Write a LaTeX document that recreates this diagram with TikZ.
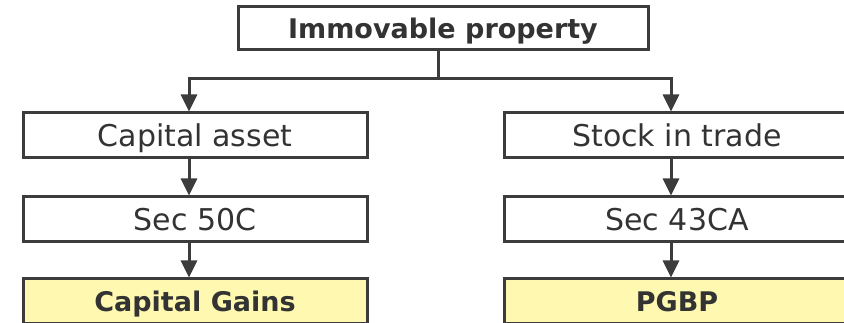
\documentclass[tikz,border=0pt]{standalone}
\usepackage{fontspec}
\setmainfont{DejaVu Sans}
\usepackage{xcolor}
\usetikzlibrary{arrows.meta}
\definecolor{boxline}{HTML}{3C3C3C}
\definecolor{txtgray}{HTML}{333333}
\definecolor{resyellow}{HTML}{FFF8B0}

\begin{document}
\begin{tikzpicture}[x=1pt,y=-1pt,
    box/.style={draw=boxline,line width=3pt,fill=white,inner sep=0pt,
      minimum width=344pt,minimum height=45pt,text=txtgray,
      text height=22pt,text depth=0pt,
      font=\fontsize{30}{36}\selectfont},
    headbox/.style={box,minimum width=410pt,minimum height=43pt,
      text height=20pt,font=\fontsize{27}{32}\selectfont\bfseries},
    resbox/.style={box,fill=resyellow,text height=20pt,
      font=\fontsize{27}{32}\selectfont\bfseries},
    link/.style={draw=boxline,line width=3pt,
      -{Triangle[length=17pt,width=16pt]}}]
  % Immovable property: capital asset vs stock in trade
  \def\xl{195}          % left column centre
  \def\xr{677}          % right column centre
  \def\dx{-6pt}         % arrows sit a little left of centre
  \clip (0,0) rectangle (844,323);
  % --- Top ---
  \node[headbox] (prop) at (443,28.5) {Immovable property};
  % --- Left column ---
  \node[box] (capasset) at (\xl,135.5) {Capital asset};
  \node[box] (sec50c) at (\xl,219.5) {Sec 50C};
  \node[resbox] (capgains) at (\xl,301.5) {Capital Gains};
  % --- Right column ---
  \node[box,minimum width=346pt] (stock) at (\xr,135.5) {Stock in trade};
  \node[box,minimum width=346pt] (sec43ca) at (\xr,219.5) {Sec 43CA};
  \node[resbox,minimum width=346pt] (pgbp) at (\xr,301.5) {PGBP};
  % --- Connectors ---
  \draw[link] ([xshift=-5pt]prop.south) -- ++(0,27) -| ([xshift=\dx]capasset.north);
  \draw[link] ([xshift=-5pt]prop.south) -- ++(0,27) -| ([xshift=\dx]stock.north);
  \draw[link] ([xshift=\dx]capasset.south) -- ([xshift=\dx]sec50c.north);
  \draw[link] ([xshift=\dx]sec50c.south) -- ([xshift=\dx]capgains.north);
  \draw[link] ([xshift=\dx]stock.south) -- ([xshift=\dx]sec43ca.north);
  \draw[link] ([xshift=\dx]sec43ca.south) -- ([xshift=\dx]pgbp.north);
\end{tikzpicture}
\end{document}
